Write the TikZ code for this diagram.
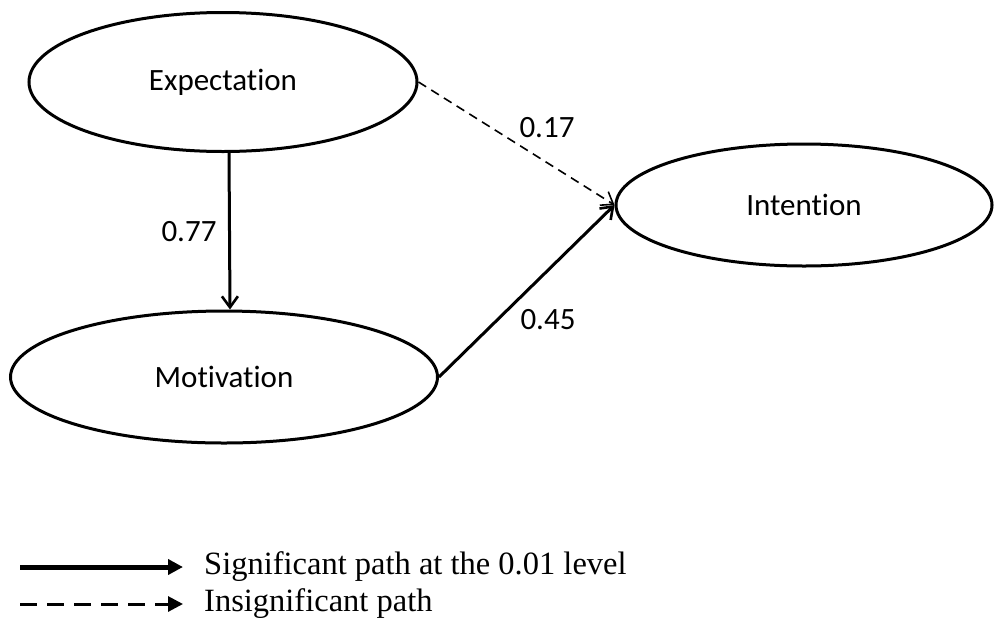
\documentclass[tikz,border=0pt]{standalone}
\usepackage{fontspec}
\setmainfont{Liberation Serif}
\newfontfamily\calfont[Ligatures=NoCommon]{Carlito}
\usetikzlibrary{arrows.meta,positioning,shapes.geometric}
\definecolor{inkline}{HTML}{000000}
\tikzset{
  latent/.style={draw=inkline, ellipse, line width=3pt, fill=white, inner sep=0pt,
                 font=\calfont\fontsize{31}{36}\selectfont},
  coef/.style={inner sep=0pt, font=\calfont\fontsize{31}{36}\selectfont},
  sigarr/.style={-{Straight Barb[length=11pt,width=16pt,line width=2.6pt]}, line width=3pt, color=inkline},
  insigarr/.style={-{Straight Barb[length=11pt,width=16pt,line width=1.6pt]}, line width=1.6pt,
                   dash pattern=on 9pt off 6pt, color=inkline},
  legsig/.style={-{Triangle[length=15pt,width=15pt]}, line width=5pt},
  leginsig/.style={-{Triangle[length=15pt,width=15pt]}, line width=3pt, dash pattern=on 17pt off 10pt},
  legtext/.style={anchor=west, inner sep=0pt, font=\fontsize{32.5}{36}\selectfont}}
\begin{document}
\begin{tikzpicture}[x=1pt,y=-1pt]
  \useasboundingbox (0,0) rectangle (995,630);
  % latent constructs
  \node[latent, minimum width=388pt, minimum height=139pt] (expect) at (223,82) {Expectation};
  \node[latent, minimum width=427pt, minimum height=132pt] (motiv) at (224,377) {Motivation};
  \node[latent, minimum width=376pt, minimum height=122pt] (intent) at (804,205) {Intention};
  % paths
  \draw[sigarr] ([xshift=6pt]expect.south) -- ([xshift=6pt]motiv.north);
  \draw[insigarr] (expect.east) -- (intent.west);
  \draw[sigarr] (motiv.east) -- (intent.west);
  \node[coef] (c77) at (189,232) {0.77};
  \node[coef] (c17) at (547,128) {0.17};
  \node[coef] (c45) at (548,320) {0.45};
  % legend
  \coordinate (s0) at (20,567);
  \coordinate (s1) at (183,567);
  \coordinate (d0) at (20,604);
  \coordinate (d1) at (183,604);
  \draw[legsig] (s0) -- (s1);
  \draw[leginsig] (d0) -- (d1);
  \node[legtext] (lsig) at (204,567) {Significant path at the 0.01 level};
  \node[legtext] (linsig) at (204,604) {Insignificant path};
\end{tikzpicture}
\end{document}
